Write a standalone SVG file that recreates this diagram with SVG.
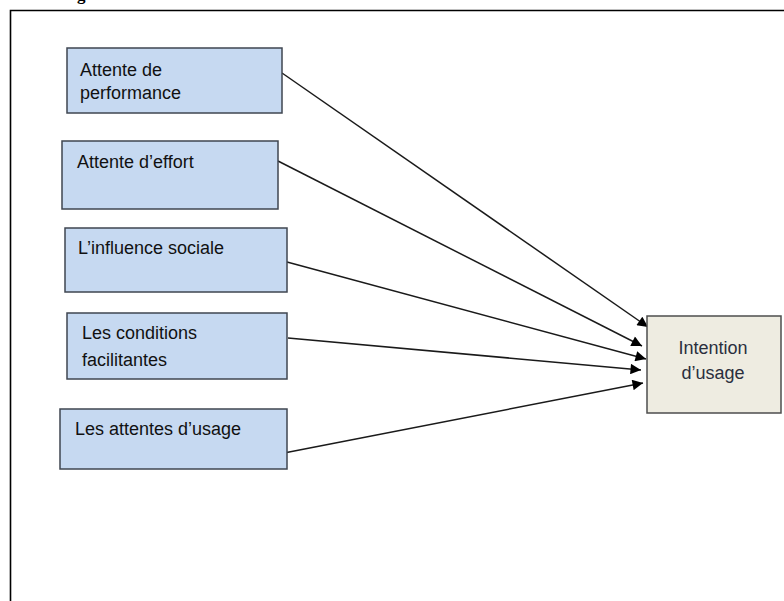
<svg xmlns="http://www.w3.org/2000/svg" width="784" height="601" viewBox="0 0 784 601">
<style>
.frame{fill:none;stroke:#000;stroke-width:1.6}
.box{fill:#c6d9f1;stroke:#3f4650;stroke-width:1.5}
.tbox{fill:#eeece1;stroke:#4d4d4d;stroke-width:1.5}
.lbl{font-family:"Liberation Sans",Arial,sans-serif;font-size:18px;fill:#111}
.tlbl{font-family:"Liberation Sans",Arial,sans-serif;font-size:18px;fill:#2a2f3d;text-anchor:middle}
.cap{font-family:"Liberation Serif","Times New Roman",serif;font-size:17px;font-weight:bold;fill:#000}
.con{stroke:#1a1a1a;stroke-width:1.5;fill:none;marker-end:url(#ah)}
</style>
<defs>
<marker id="ah" viewBox="0 0 10 10" refX="10" refY="5" markerWidth="8" markerHeight="7" markerUnits="strokeWidth" orient="auto">
<path d="M0,0 L10,5 L0,10 Z" fill="#000"/>
</marker>
</defs>
<rect width="784" height="601" fill="#fff"/>
<text class="cap" x="62" y="-0.5">Figure</text>
<path class="frame" d="M10.5,601 V10.5 H784"/>
<g id="connectors">
<line class="con" x1="282" y1="73" x2="648" y2="327"/>
<line class="con" x1="278" y1="161" x2="642" y2="346"/>
<line class="con" x1="287" y1="262" x2="646" y2="359"/>
<line class="con" x1="288" y1="338" x2="641" y2="370"/>
<line class="con" x1="284" y1="453" x2="643" y2="383"/>
</g>
<g id="n1">
<rect class="box" x="67" y="48" width="215" height="65"/>
<text class="lbl" x="80" y="76">Attente de</text>
<text class="lbl" x="80" y="99">performance</text>
</g>
<g id="n2">
<rect class="box" x="62" y="141" width="216" height="68"/>
<text class="lbl" x="77" y="168">Attente d’effort</text>
</g>
<g id="n3">
<rect class="box" x="65" y="228" width="222" height="64"/>
<text class="lbl" x="78" y="254">L’influence sociale</text>
</g>
<g id="n4">
<rect class="box" x="67" y="313" width="220" height="66"/>
<text class="lbl" x="82" y="339">Les conditions</text>
<text class="lbl" x="82" y="366">facilitantes</text>
</g>
<g id="n5">
<rect class="box" x="60" y="409" width="227" height="60"/>
<text class="lbl" x="75" y="435">Les attentes d’usage</text>
</g>
<g id="n6">
<rect class="tbox" x="647" y="316" width="134" height="97"/>
<text class="tlbl" x="713" y="354">Intention</text>
<text class="tlbl" x="713" y="379">d’usage</text>
</g>
</svg>
